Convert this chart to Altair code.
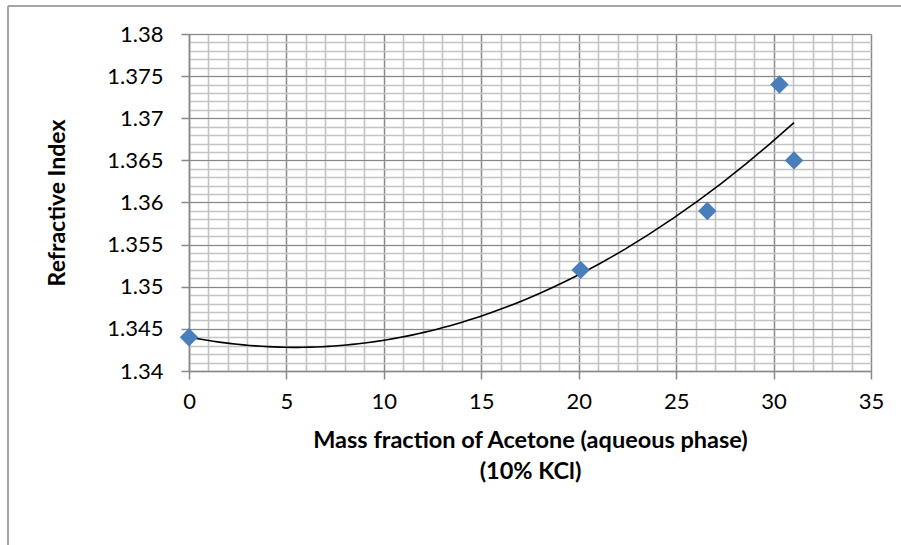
import altair as alt
import numpy as np
import pandas as pd

# Measured samples: acetone mass fraction vs refractive index (10% KCl)
mass_fraction = [0.0, 20.1, 26.6, 30.3, 31.05]
refractive_index = [1.344, 1.352, 1.359, 1.374, 1.365]

x_major = [0, 5, 10, 15, 20, 25, 30, 35]
y_major = [1.34, 1.345, 1.35, 1.355, 1.36, 1.365, 1.37, 1.375, 1.38]
x_minor = list(range(0, 36))
y_minor = [round(v, 3) for v in np.arange(1.340, 1.3805, 0.001)]

df = pd.DataFrame({"x": mass_fraction, "y": refractive_index})

FONT = "Lato"
W, H = 682, 337
PAD_L, PAD_T = 189, 34

x_scale = alt.Scale(domain=[0, 35], nice=False, zero=False)
y_scale = alt.Scale(domain=[1.34, 1.38], nice=False, zero=False)

base = alt.Chart(df)

# Fine grid (every 1 unit / every 0.001)
minor = base.mark_point(opacity=0).encode(
    x=alt.X("x:Q", scale=x_scale, axis=alt.Axis(
        values=x_minor, grid=True, gridColor="#c4c4c4", gridWidth=1.6,
        labels=False, ticks=False, domain=False, title=None, orient="bottom")),
    y=alt.Y("y:Q", scale=y_scale, axis=alt.Axis(
        values=y_minor, grid=True, gridColor="#c4c4c4", gridWidth=1.6,
        labels=False, ticks=False, domain=False, title=None, orient="left")),
)

# Quadratic trend line with the main axes
trend = base.transform_regression(
    "x", "y", method="poly", order=2
).mark_line(color="black", strokeWidth=1.6).encode(
    x=alt.X("x:Q", scale=x_scale, axis=alt.Axis(
        values=x_major, format="d", grid=True, gridColor="#888888", gridWidth=1.2,
        domainColor="#888888", domainWidth=1.5, tickColor="#888888", tickSize=8,
        tickWidth=1.5, labelFont=FONT, labelFontSize=22, labelColor="#000000",
        labelPadding=12, labelFlush=False, titleFont=FONT, titleFontSize=23.5,
        titleFontWeight="bold", titleColor="#000000", titlePadding=16,
        titleLineHeight=31,
        title=["Mass fraction of Acetone (aqueous phase)", "(10% KCl)"],
        orient="bottom")),
    y=alt.Y("y:Q", scale=y_scale, axis=alt.Axis(
        values=y_major, format="~g", grid=True, gridColor="#888888", gridWidth=1.2,
        domainColor="#888888", domainWidth=1.5, tickColor="#888888", tickSize=8,
        tickWidth=1.5, labelFont=FONT, labelFontSize=22, labelColor="#000000",
        labelPadding=18, labelFlush=False, titleFont=FONT, titleFontSize=23,
        titleFontWeight="bold", titleColor="#000000", titlePadding=37,
        title="Refractive Index", orient="left")),
)

points = base.mark_point(
    shape="diamond", filled=True, size=340, color="#4a7ebb", opacity=1
).encode(
    x=alt.X("x:Q", scale=x_scale, axis=None),
    y=alt.Y("y:Q", scale=y_scale, axis=None),
)

# Outer chart frame (left and top edges)
frame_left = alt.Chart(df).mark_rule(color="#a6a6a6", strokeWidth=2).encode(
    x=alt.value(8 - PAD_L), y=alt.value(6 - PAD_T), y2=alt.value(545 - PAD_T + 5))
frame_top = alt.Chart(df).mark_rule(color="#a6a6a6", strokeWidth=2).encode(
    x=alt.value(8 - PAD_L), x2=alt.value(901 - PAD_L + 5), y=alt.value(6 - PAD_T))

chart = alt.layer(minor, trend, points, frame_left, frame_top).resolve_axis(
    x="independent", y="independent"
).properties(
    width=W, height=H,
    autosize=alt.AutoSizeParams(type="none"),
    padding={"left": PAD_L, "top": PAD_T, "right": 901 - PAD_L - W, "bottom": 545 - PAD_T - H},
    background="white",
).configure_view(stroke=None)

chart.save("out.html", embed_options={"renderer": "svg", "actions": False})
